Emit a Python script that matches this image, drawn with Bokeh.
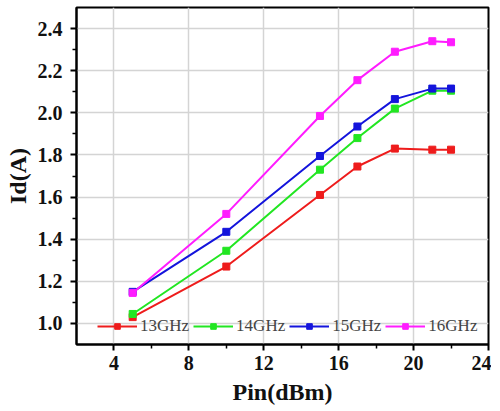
from bokeh.plotting import figure
from bokeh.models import Range1d, FixedTicker, Legend, LegendItem, NumeralTickFormatter
from bokeh.embed import file_html
from bokeh.resources import INLINE

pin = [5, 10, 15, 17, 19, 21, 22]
id_13 = [1.03, 1.27, 1.61, 1.745, 1.83, 1.825, 1.825]
id_14 = [1.045, 1.345, 1.73, 1.88, 2.02, 2.105, 2.105]
id_15 = [1.15, 1.435, 1.795, 1.935, 2.065, 2.115, 2.115]
id_16 = [1.145, 1.52, 1.985, 2.155, 2.29, 2.34, 2.335]
labels = ["13GHz", "14GHz", "15GHz", "16GHz"]
colors = ["#ee1c1c", "#22e622", "#1414dc", "#ff1cff"]
x_ticks = [4, 8, 12, 16, 20, 24]
y_ticks = [1.0, 1.2, 1.4, 1.6, 1.8, 2.0, 2.2, 2.4]

FONT = "Liberation Serif"

p = figure(width=491, height=410, output_backend="svg", toolbar_location=None,
           x_range=Range1d(2, 24), y_range=Range1d(0.9, 2.5),
           min_border_left=76, min_border_right=3, min_border_top=7, min_border_bottom=66)

items = []
for ys, lab, col in zip([id_13, id_14, id_15, id_16], labels, colors):
    l = p.line(pin, ys, line_color=col, line_width=2)
    s = p.scatter(pin, ys, marker="square", size=7, fill_color=col, line_color=col)
    items.append(LegendItem(label=lab, renderers=[l, s]))

legend = Legend(items=items, orientation="horizontal", location=(17, 4),
                border_line_alpha=0, background_fill_alpha=0,
                glyph_width=40, glyph_height=14, label_standoff=3, spacing=4,
                padding=4, margin=0,
                label_text_font=FONT, label_text_font_size="17px",
                label_text_color="#444444")
p.add_layout(legend, "center")

p.outline_line_color = "black"
p.outline_line_width = 2
p.outline_line_alpha = 1

for ax in (p.xaxis, p.yaxis):
    ax.axis_line_width = 2
    ax.axis_line_color = "black"
    ax.major_tick_line_width = 2
    ax.minor_tick_line_width = 1.5
    ax.major_tick_out = 6
    ax.major_tick_in = 0
    ax.minor_tick_out = 4
    ax.minor_tick_in = 0
    ax.major_label_text_font = FONT
    ax.major_label_text_font_style = "bold"
    ax.major_label_text_font_size = "20px"
    ax.major_label_text_color = "#111111"
    ax.axis_label_text_font = FONT
    ax.axis_label_text_font_style = "bold"
    ax.axis_label_text_font_size = "24px"
    ax.axis_label_text_color = "#111111"

p.xaxis.ticker = FixedTicker(ticks=x_ticks, minor_ticks=[6, 10, 14, 18, 22])
p.yaxis.ticker = FixedTicker(ticks=y_ticks,
                             minor_ticks=[1.1, 1.3, 1.5, 1.7, 1.9, 2.1, 2.3])
p.yaxis.formatter = NumeralTickFormatter(format="0.0")
p.xaxis.axis_label = "Pin(dBm)"
p.yaxis.axis_label = "Id(A)"
p.xaxis.major_label_standoff = 5
p.yaxis.major_label_standoff = 8
p.xaxis.axis_label_standoff = 6
p.yaxis.axis_label_standoff = 4

p.xgrid.grid_line_color = "#d4d4d4"
p.ygrid.grid_line_color = "#d4d4d4"
p.xgrid.grid_line_width = 1.5
p.ygrid.grid_line_width = 1.5

open("out.html", "w").write(file_html(p, INLINE))
